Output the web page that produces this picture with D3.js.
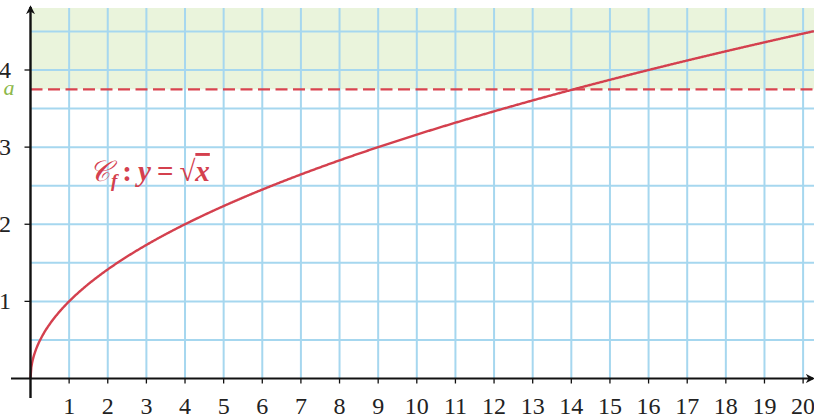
<!DOCTYPE html>
<html><head><meta charset="utf-8">
<script src="https://cdn.jsdelivr.net/npm/d3@7"></script>
<style>html,body{margin:0;padding:0;background:#fff;}svg{display:block;}</style>
</head><body>
<svg id="c" width="814" height="418"></svg>
<script>
const xTicks = [1,2,3,4,5,6,7,8,9,10,11,12,13,14,15,16,17,18,19,20];
const yTicks = [1,2,3,4];
const xGrid = [1,2,3,4,5,6,7,8,9,10,11,12,13,14,15,16,17,18,19,20];
const yGrid = [0.5,1,1.5,2,2.5,3,3.5,4,4.5];
const aValue = [3.75];
const curveX = d3.range(0, 20.3, 0.02);
const curveY = curveX.map(v => Math.sqrt(v));

const svg = d3.select("#c");
const x = d3.scaleLinear().domain([0, 20]).range([30.5, 803.1]);
const y = d3.scaleLinear().domain([0, 4]).range([378.5, 70]);
const xMax = x.invert(814), yMax = y.invert(8);

// green region
svg.append("rect").attr("x", x(0)).attr("y", y(yMax))
  .attr("width", x(xMax) - x(0)).attr("height", y(aValue[0]) - y(yMax))
  .attr("fill", "#eaf4dc");

// grid
svg.append("g").selectAll("line").data(xGrid).join("line")
  .attr("x1", d => x(d)).attr("x2", d => x(d)).attr("y1", y(0)).attr("y2", y(yMax))
  .attr("stroke", "#a6d7ef").attr("stroke-width", 2);
svg.append("g").selectAll("line").data(yGrid).join("line")
  .attr("x1", x(0)).attr("x2", x(xMax)).attr("y1", d => y(d)).attr("y2", d => y(d))
  .attr("stroke", "#a6d7ef").attr("stroke-width", 2);

// dashed line a
svg.append("line").attr("x1", x(0)).attr("x2", x(xMax))
  .attr("y1", y(aValue[0])).attr("y2", y(aValue[0]))
  .attr("stroke", "#d9434f").attr("stroke-width", 2.2).attr("stroke-dasharray", "12,5.5");

// curve
svg.append("path").datum(curveX.map((v, i) => [v, curveY[i]]))
  .attr("d", d3.line().x(d => x(d[0])).y(d => y(d[1])))
  .attr("fill", "none").attr("stroke", "#d4404e").attr("stroke-width", 2.4);

// axes
const defs = svg.append("defs");
defs.append("marker").attr("id", "arr").attr("viewBox", "0 0 10 10").attr("refX", 8).attr("refY", 5)
  .attr("markerWidth", 9).attr("markerHeight", 9).attr("markerUnits", "userSpaceOnUse").attr("orient", "auto")
  .append("path").attr("d", "M0,0 L10,5 L0,10 L3,5 Z").attr("fill", "#111");
svg.append("line").attr("x1", 11).attr("x2", 813).attr("y1", y(0)).attr("y2", y(0))
  .attr("stroke", "#111").attr("stroke-width", 2).attr("marker-end", "url(#arr)");
svg.append("line").attr("x1", x(0)).attr("x2", x(0)).attr("y1", 398).attr("y2", 7)
  .attr("stroke", "#111").attr("stroke-width", 2.4).attr("marker-end", "url(#arr)");

// ticks
svg.append("g").selectAll("line").data(xTicks).join("line")
  .attr("x1", d => x(d)).attr("x2", d => x(d)).attr("y1", y(0)).attr("y2", y(0) + 5)
  .attr("stroke", "#111").attr("stroke-width", 1.3);
svg.append("g").selectAll("line").data(yTicks).join("line")
  .attr("x1", x(0) - 6).attr("x2", x(0)).attr("y1", d => y(d)).attr("y2", d => y(d))
  .attr("stroke", "#111").attr("stroke-width", 1.3);

const serif = "'Liberation Serif', 'DejaVu Serif', serif";
svg.append("g").selectAll("text").data(xTicks).join("text")
  .attr("x", d => x(d)).attr("y", 414).attr("text-anchor", "middle")
  .attr("font-family", serif).attr("font-size", 24).attr("fill", "#222").text(d => d);
svg.append("g").selectAll("text").data(yTicks).join("text")
  .attr("x", 11).attr("y", d => y(d) + 8).attr("text-anchor", "end")
  .attr("font-family", serif).attr("font-size", 24).attr("fill", "#222").text(d => d);

svg.append("text").attr("x", 9).attr("y", y(aValue[0]) + 6).attr("text-anchor", "middle")
  .attr("font-family", serif).attr("font-style", "italic").attr("font-size", 22)
  .attr("fill", "#8cb84a").text("a");

// equation label
const lab = svg.append("text").attr("x", 89).attr("y", 181)
  .attr("font-family", serif).attr("font-size", 29).attr("fill", "#d4404e")
  .attr("font-style", "italic").attr("font-weight", "bold");
lab.append("tspan").attr("font-weight", "normal").text("𝒞");
lab.append("tspan").attr("font-size", 19).attr("dy", 6).attr("dx", 1).text("f");
lab.append("tspan").attr("dy", -6).attr("dx", 5).attr("font-style", "normal").text(":");
lab.append("tspan").attr("dx", 6).text("y");
lab.append("tspan").attr("dx", 6).attr("font-style", "normal").text("=");
lab.append("tspan").attr("dx", 6).attr("font-style", "normal").text("√");
lab.append("tspan").attr("text-decoration", "overline").text("x");
</script>
</body></html>
